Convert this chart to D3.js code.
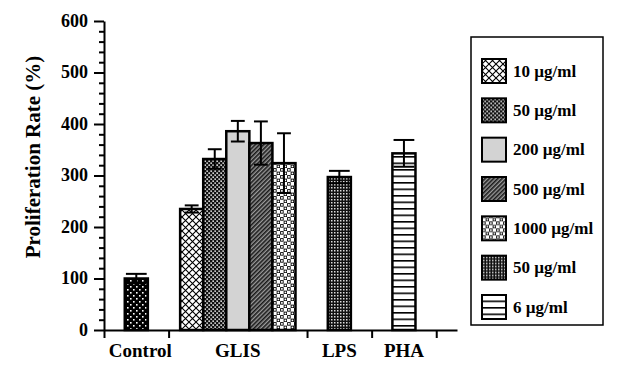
<!DOCTYPE html>
<html>
<head>
<meta charset="utf-8">
<script src="https://cdnjs.cloudflare.com/ajax/libs/d3/7.8.5/d3.min.js"></script>
<style>
    body { margin: 0; background: #fff; }
    text { font-family: "Liberation Serif", "Times New Roman", serif; font-weight: bold; fill: #000; }
</style>
</head>
<body>
<div id="chart"></div>
<script>
// chart values
const categories = ["Control", "GLIS", "LPS", "PHA"];
const barGroup = ["Control", "GLIS", "GLIS", "GLIS", "GLIS", "GLIS", "LPS", "PHA"];
const barDose = ["", "10 µg/ml", "50 µg/ml", "200 µg/ml", "500 µg/ml", "1000 µg/ml", "50 µg/ml", "6 µg/ml"];
const rateMean = [100, 235, 332, 386, 363, 324, 297, 343];
const rateErr = [9, 7, 19, 20, 42, 58, 12, 26];
const yTicks = [0, 100, 200, 300, 400, 500, 600];

// fill pattern id for each bar (same order as above)
const barFill = ["p-control", "p-10", "p-50", "p-200", "p-500", "p-1000", "p-lps", "p-pha"];

var width = 621;
var height = 371;
var serif = "'Liberation Serif', 'Times New Roman', serif";

var svg = d3.select("#chart")
    .append("svg")
    .attr("width", width)
    .attr("height", height);

svg.append("rect")
    .attr("width", width)
    .attr("height", height)
    .attr("fill", "#fff");

makePatterns(svg.append("defs"));

// group spans in "bar" units: grouped bars get 1 unit of padding, single bars more
var groups = categories.map(function (c) {
    return { name: c, n: barGroup.filter(function (g) { return g === c; }).length };
});
var start = 0;
groups.forEach(function (g) {
    g.start = start;
    g.span = g.n + (g.n > 1 ? 1 : 1.8);
    start += g.span;
});
var total = start;

var x = d3.scaleLinear()
    .domain([0, total + 0.9])
    .range([104, 457]);

var y = d3.scaleLinear()
    .domain([0, 600])
    .range([330, 21]);

var bars = barGroup.map(function (gname, i) {
    var g = groups.find(function (d) { return d.name === gname; });
    var k = barGroup.slice(0, i).filter(function (d) { return d === gname; }).length;
    var left = g.start + (g.span - g.n) / 2 + k;
    return {
        left: left,
        n: g.n,
        mean: rateMean[i],
        err: rateErr[i],
        fill: barFill[i]
    };
});

var bw = x(1) - x(0);

// bars
svg.append("g")
    .selectAll("rect")
    .data(bars)
    .enter().append("rect")
    .attr("x", function (d) { return x(d.left); })
    .attr("y", function (d) { return y(d.mean); })
    .attr("width", bw)
    .attr("height", function (d) { return y(0) - y(d.mean); })
    .attr("fill", function (d) { return "url(#" + d.fill + ")"; })
    .attr("stroke", "#000")
    .attr("stroke-width", 2.5);

// error bars
var eb = svg.append("g")
    .selectAll("g")
    .data(bars)
    .enter().append("g")
    .attr("stroke", "#000")
    .attr("stroke-width", 2);

eb.append("line")
    .attr("x1", function (d) { return x(d.left + 0.5); })
    .attr("x2", function (d) { return x(d.left + 0.5); })
    .attr("y1", function (d) { return y(d.mean - d.err); })
    .attr("y2", function (d) { return y(d.mean + d.err); });

[1, -1].forEach(function (s) {
    eb.append("line")
        .attr("x1", function (d) { return x(d.left + 0.5) - capHalf(d); })
        .attr("x2", function (d) { return x(d.left + 0.5) + capHalf(d); })
        .attr("y1", function (d) { return y(d.mean + s * d.err); })
        .attr("y2", function (d) { return y(d.mean + s * d.err); });
});

function capHalf(d) {
    return bw * (d.n > 1 ? 0.3 : 0.45);
}

// y axis, major and minor ticks
var yAxis = svg.append("g")
    .attr("transform", "translate(" + x(0) + ",0)")
    .call(d3.axisLeft(y).tickValues(yTicks).tickSize(10).tickSizeOuter(0).tickPadding(6));
yAxis.attr("font-family", serif)
    .attr("font-size", 18)
    .attr("font-weight", "bold");
yAxis.selectAll("text")
    .attr("dy", "0.3em");

var minor = svg.append("g")
    .attr("transform", "translate(" + x(0) + ",0)")
    .call(d3.axisLeft(y)
        .tickValues(d3.range(0, 601, 20).filter(function (v) { return v % 100 !== 0; }))
        .tickSize(5)
        .tickFormat(""));
minor.select(".domain").remove();

// x axis with ticks at group boundaries
var bounds = groups.map(function (g) { return g.start; }).concat([total]);
var xAxis = svg.append("g")
    .attr("transform", "translate(0," + y(0) + ")")
    .call(d3.axisBottom(x).tickValues(bounds).tickSize(8).tickSizeOuter(0).tickFormat(""));

svg.selectAll(".domain, .tick line")
    .attr("stroke", "#000")
    .attr("stroke-width", 2);

svg.append("g")
    .selectAll("text")
    .data(groups)
    .enter().append("text")
    .attr("x", function (d) { return x(d.start + d.span / 2) + (d.name === "Control" ? 4 : 0); })
    .attr("y", 357)
    .attr("text-anchor", "middle")
    .style("font-size", "19px")
    .text(function (d) { return d.name; });

svg.append("text")
    .attr("transform", "translate(40,157) rotate(-90)")
    .attr("text-anchor", "middle")
    .style("font-size", "21px")
    .text("Proliferation Rate (%)");

// legend
var legendItems = bars.slice(1).map(function (d, i) {
    return { label: barDose[i + 1], fill: d.fill };
});

var ly = d3.scalePoint()
    .domain(d3.range(legendItems.length))
    .range([71, 307]);

svg.append("rect")
    .attr("x", 471)
    .attr("y", 37)
    .attr("width", 132)
    .attr("height", 288)
    .attr("fill", "#fff")
    .attr("stroke", "#000")
    .attr("stroke-width", 1.5);

var li = svg.append("g")
    .selectAll("g")
    .data(legendItems)
    .enter().append("g")
    .attr("transform", function (d, i) { return "translate(482," + ly(i) + ")"; });

li.append("rect")
    .attr("x", 0)
    .attr("y", -12)
    .attr("width", 24)
    .attr("height", 24)
    .attr("fill", function (d) { return "url(#" + d.fill + ")"; })
    .attr("stroke", "#000")
    .attr("stroke-width", 2);

li.append("text")
    .attr("x", 31)
    .attr("y", 0)
    .attr("dominant-baseline", "central")
    .style("font-size", "17px")
    .text(function (d) { return d.label; });


function makePatterns(defs) {
    var p;

    // control: black with sparse white dots
    p = pat(defs, "p-control", 6, 6);
    p.append("rect").attr("width", 6).attr("height", 6).attr("fill", "#000");
    p.append("rect").attr("x", 1).attr("y", 1).attr("width", 1.6).attr("height", 1.6).attr("fill", "#fff");
    p.append("rect").attr("x", 4).attr("y", 4).attr("width", 1.6).attr("height", 1.6).attr("fill", "#fff");

    // 10: crosshatch
    p = pat(defs, "p-10", 7, 7);
    p.append("rect").attr("width", 7).attr("height", 7).attr("fill", "#fff");
    p.append("path").attr("d", "M0,0L7,7M7,0L0,7").attr("stroke", "#000").attr("stroke-width", 1.1);

    // 50: dark with dense white dots
    p = pat(defs, "p-50", 4, 4);
    p.append("rect").attr("width", 4).attr("height", 4).attr("fill", "#111");
    p.append("rect").attr("x", 0.4).attr("y", 0.4).attr("width", 1.5).attr("height", 1.5).attr("fill", "#fff");
    p.append("rect").attr("x", 2.4).attr("y", 2.4).attr("width", 1.5).attr("height", 1.5).attr("fill", "#eee");

    // 200: plain light grey
    p = pat(defs, "p-200", 4, 4);
    p.append("rect").attr("width", 4).attr("height", 4).attr("fill", "#d3d3d3");

    // 500: fine diagonal hatch
    p = pat(defs, "p-500", 3, 3).attr("patternTransform", "rotate(45)");
    p.append("rect").attr("width", 3).attr("height", 3).attr("fill", "#9a9a9a");
    p.append("rect").attr("width", 1.6).attr("height", 3).attr("fill", "#1a1a1a");

    // 1000: small open squares
    p = pat(defs, "p-1000", 7, 7);
    p.append("rect").attr("width", 7).attr("height", 7).attr("fill", "#fff");
    p.append("rect").attr("x", 0.6).attr("y", 0.6).attr("width", 2.6).attr("height", 2.6)
        .attr("fill", "none").attr("stroke", "#000").attr("stroke-width", 0.9);
    p.append("rect").attr("x", 4.1).attr("y", 4.1).attr("width", 2.6).attr("height", 2.6)
        .attr("fill", "none").attr("stroke", "#000").attr("stroke-width", 0.9);

    // lps: dense dark grid
    p = pat(defs, "p-lps", 3, 3);
    p.append("rect").attr("width", 3).attr("height", 3).attr("fill", "#111");
    p.append("rect").attr("x", 1).attr("y", 1).attr("width", 1.5).attr("height", 1.5).attr("fill", "#ddd");

    // pha: horizontal lines
    p = pat(defs, "p-pha", 6.5, 6.5);
    p.append("rect").attr("width", 6.5).attr("height", 6.5).attr("fill", "#fff");
    p.append("rect").attr("width", 6.5).attr("height", 1.6).attr("fill", "#000");
}

function pat(defs, id, w, h) {
    return defs.append("pattern")
        .attr("id", id)
        .attr("patternUnits", "userSpaceOnUse")
        .attr("width", w)
        .attr("height", h);
}
</script>
</body>
</html>
